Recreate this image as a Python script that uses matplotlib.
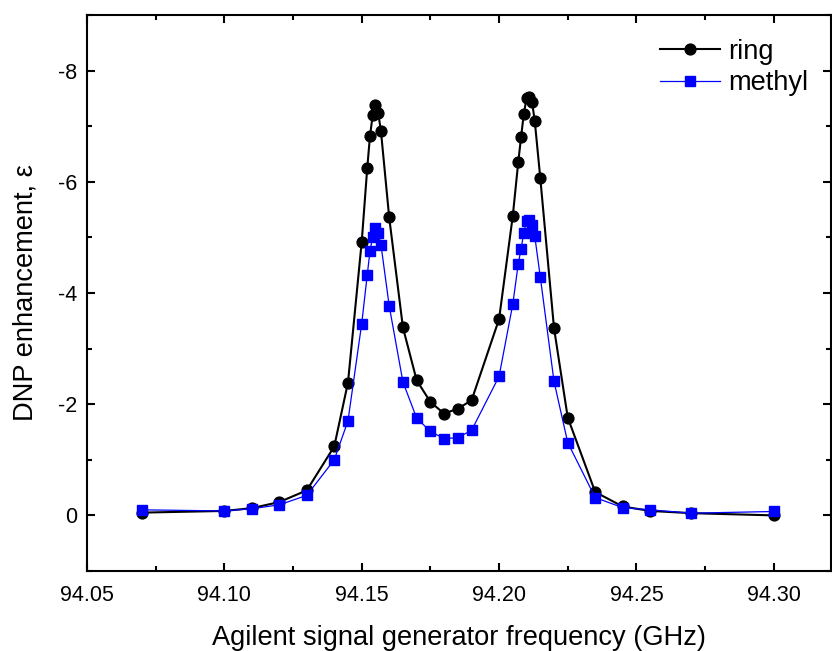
import matplotlib
matplotlib.use("Agg")
import matplotlib.pyplot as plt
from matplotlib.ticker import MultipleLocator, FormatStrFormatter

freq = [94.07, 94.10, 94.11, 94.12, 94.13, 94.14, 94.145, 94.150, 94.152, 94.153,
        94.154, 94.155, 94.156, 94.157, 94.160, 94.165, 94.170, 94.175, 94.180,
        94.185, 94.190, 94.200, 94.205, 94.207, 94.208, 94.209, 94.210, 94.211,
        94.212, 94.213, 94.215, 94.220, 94.225, 94.235, 94.245, 94.255, 94.270,
        94.300]
ring = [-0.05, -0.08, -0.13, -0.24, -0.45, -1.24, -2.39, -4.92, -6.24, -6.82,
        -7.20, -7.38, -7.24, -6.91, -5.36, -3.38, -2.43, -2.04, -1.83,
        -1.92, -2.07, -3.53, -5.39, -6.36, -6.80, -7.22, -7.50, -7.52,
        -7.44, -7.09, -6.07, -3.37, -1.76, -0.42, -0.16, -0.08, -0.04,
        0.0]
methyl = [-0.10, -0.08, -0.12, -0.19, -0.36, -1.00, -1.70, -3.45, -4.32, -4.75,
          -5.01, -5.17, -5.08, -4.87, -3.77, -2.40, -1.75, -1.51, -1.38,
          -1.40, -1.53, -2.50, -3.80, -4.53, -4.79, -5.08, -5.29, -5.31,
          -5.23, -5.02, -4.29, -2.41, -1.31, -0.32, -0.14, -0.10, -0.04,
          -0.07]

plt.rcParams["font.family"] = ["Liberation Sans", "DejaVu Sans"]
plt.rcParams["axes.unicode_minus"] = False

fig = plt.figure(figsize=(8.32, 6.51), dpi=100)
ax = fig.add_axes([0.1046, 0.1229, 0.8944, 0.8541])

ax.plot(freq, ring, color="black", linewidth=1.5, marker="o", markersize=7.8,
        label="ring", zorder=3)
ax.plot(freq, methyl, color="#0000ff", linewidth=0.9, marker="s", markersize=6.5,
        label="methyl", zorder=4)

ax.set_xlim(94.05, 94.3209)
ax.set_ylim(1, -9)

ax.xaxis.set_major_locator(MultipleLocator(0.05))
ax.xaxis.set_minor_locator(MultipleLocator(0.025))
ax.xaxis.set_major_formatter(FormatStrFormatter("%.2f"))
ax.yaxis.set_major_locator(MultipleLocator(2))
ax.yaxis.set_minor_locator(MultipleLocator(1))

ax.tick_params(which="both", direction="in", top=True, right=True, width=1.5,
               labelsize=15.5)
ax.tick_params(which="major", length=6)
ax.tick_params(which="minor", length=3.5)
ax.tick_params(axis="x", pad=10)
ax.tick_params(axis="y", pad=7)
for s in ax.spines.values():
    s.set_linewidth(1.5)

ax.set_xlabel("Agilent signal generator frequency (GHz)", fontsize=19.6, labelpad=14)
ax.set_ylabel("DNP enhancement, ε", fontsize=19.6, labelpad=14)

ax.legend(loc="upper right", frameon=False, fontsize=19.6, handlelength=2.2,
          handletextpad=0.3, labelspacing=0.2, borderaxespad=0.4,
          bbox_to_anchor=(0.999, 0.996))

fig.savefig("out.png", dpi=100, facecolor="white")
